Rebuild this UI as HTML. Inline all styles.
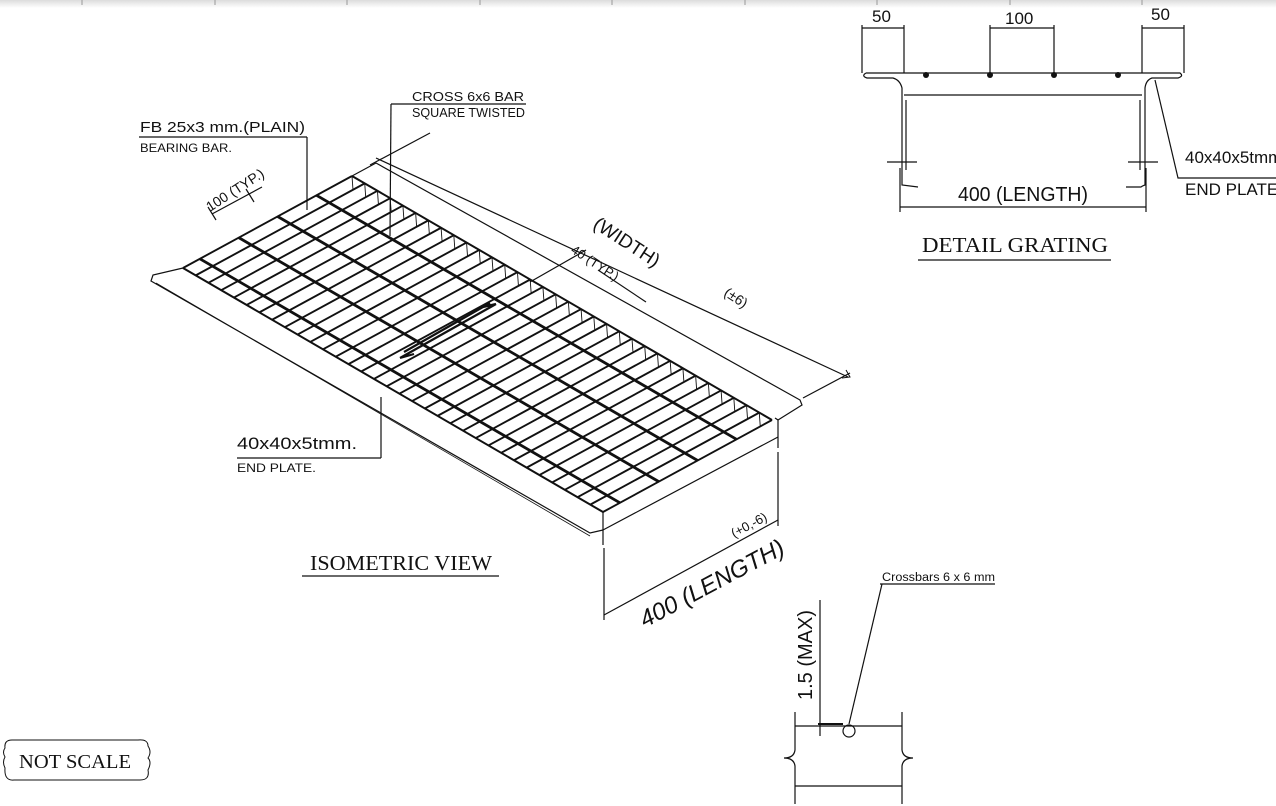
<!DOCTYPE html>
<html><head><meta charset="utf-8"><style>
html,body{margin:0;padding:0;background:#fff;}
svg{display:block;}
text{font-family:"Liberation Sans",sans-serif;fill:#111;stroke:none;font-weight:normal;}
.s{font-family:"Liberation Serif",serif;}
</style></head><body>
<svg id="sv" width="1276" height="806" viewBox="0 0 1276 806" xmlns="http://www.w3.org/2000/svg" stroke="#111" fill="none" stroke-width="1.2">
<defs>
<linearGradient id="tb" x1="0" y1="0" x2="0" y2="1"><stop offset="0" stop-color="#dcdcdc"/><stop offset="1" stop-color="#fff"/></linearGradient>
</defs>
<rect x="0" y="0" width="1276" height="8" fill="url(#tb)" stroke="none"/>
<g stroke="#999" stroke-width="1">
<line x1="82" y1="0" x2="82" y2="5"/><line x1="215" y1="0" x2="215" y2="5"/><line x1="347" y1="0" x2="347" y2="5"/><line x1="480" y1="0" x2="480" y2="5"/><line x1="612" y1="0" x2="612" y2="5"/><line x1="745" y1="0" x2="745" y2="5"/><line x1="877" y1="0" x2="877" y2="5"/><line x1="1010" y1="0" x2="1010" y2="5"/><line x1="1142" y1="0" x2="1142" y2="5"/>
</g>
<g id="grid"></g>

<!-- front long strip -->
<path d="M183,268 L153,275 L151,281 L590,533 L603,530"/>
<line x1="156" y1="283" x2="590" y2="536" stroke-width="0.8"/>
<!-- right end face -->
<path d="M603,512 L603,545 M603,530 L778,437 M775,418 L778,420 L778,448"/>
<!-- back strip -->
<path d="M352,176 L376,163 L800,400 L802,405 L778,420"/>

<!-- width dim -->
<line x1="376" y1="158" x2="848" y2="377"/>
<line x1="803" y1="398" x2="850" y2="373"/>
<line x1="370" y1="165" x2="430" y2="133"/>
<path d="M846,370 L850,377 L842,378" stroke-width="1"/>
<text transform="translate(592,227) rotate(33)" font-size="19">(WIDTH)</text>
<text transform="translate(723,295) rotate(33)" font-size="14">(±6)</text>
<!-- 40 typ -->
<line x1="530" y1="282" x2="586" y2="250"/>
<text transform="translate(570,252) rotate(33)" font-size="13">40 (TYP.)</text>
<line x1="598" y1="270" x2="646" y2="302"/>
<!-- 100 typ -->
<line x1="212" y1="214" x2="262" y2="187"/>
<line x1="208" y1="207" x2="216" y2="220"/><line x1="246" y1="189" x2="254" y2="202"/>
<text transform="translate(210,212) rotate(-33)" font-size="14">100 (TYP.)</text>
<!-- center arrow -->
<path d="M400,358 L496,304 M404,352 L490,303 M400,358 L414,354 M496,304 L483,307" stroke-width="2.2"/>
<!-- labels -->
<text x="140" y="132" font-size="15" textLength="165" lengthAdjust="spacingAndGlyphs">FB 25x3 mm.(PLAIN)</text>
<line x1="139" y1="137" x2="307" y2="137"/>
<line x1="307" y1="137" x2="307" y2="210"/>
<text x="140" y="152" font-size="12" textLength="92" lengthAdjust="spacingAndGlyphs">BEARING BAR.</text>
<text x="412" y="101" font-size="12.5" textLength="112" lengthAdjust="spacingAndGlyphs">CROSS 6x6 BAR</text>
<text x="412" y="117" font-size="12.5" textLength="113" lengthAdjust="spacingAndGlyphs">SQUARE TWISTED</text>
<line x1="391" y1="104" x2="526" y2="104"/>
<line x1="391" y1="104" x2="390" y2="236"/>
<text x="237" y="449" font-size="17" textLength="120" lengthAdjust="spacingAndGlyphs">40x40x5tmm.</text>
<line x1="237" y1="458" x2="381" y2="458"/>
<line x1="381" y1="458" x2="381" y2="397"/>
<text x="237" y="472" font-size="12" textLength="79" lengthAdjust="spacingAndGlyphs">END PLATE.</text>
<text x="310" y="570" font-size="21" class="s" textLength="182" lengthAdjust="spacingAndGlyphs">ISOMETRIC VIEW</text>
<line x1="302" y1="576" x2="499" y2="576"/>
<!-- length dim -->
<line x1="604" y1="548" x2="604" y2="620"/>
<line x1="778" y1="452" x2="778" y2="526"/>
<line x1="604" y1="615" x2="778" y2="520"/>
<text transform="translate(734,538) rotate(-28)" font-size="13">(+0,-6)</text>
<text transform="translate(645,628) rotate(-28)" font-size="24" font-style="italic">400 (LENGTH)</text>
<!-- not scale -->
<path d="M12,740 Q4,740 5,748 Q2,752 5,757 Q2,762 5,768 Q4,781 14,780 L140,780 Q150,780 148,770 Q152,762 148,758 Q152,752 148,746 Q148,739 138,740 Z" stroke-width="1"/>
<text x="19" y="768" font-size="20" class="s" textLength="112" lengthAdjust="spacingAndGlyphs">NOT SCALE</text>

<!-- detail grating -->
<path d="M866,73 L1180,73 Q1184,76 1178,78 L1152,78 Q1146,80 1145,88 L1145,185 Q1142,186 1141,187 L1126,187 M866,73 Q861,76 867,78 L893,78 Q900,80 902,88 L902,185 L918,187"/>
<line x1="904" y1="95" x2="1142" y2="95"/>
<line x1="906" y1="100" x2="906" y2="170"/><line x1="1140" y1="100" x2="1140" y2="170"/>
<line x1="862" y1="25" x2="862" y2="73"/><line x1="904" y1="25" x2="904" y2="73"/>
<line x1="990" y1="25" x2="990" y2="73"/><line x1="1054" y1="25" x2="1054" y2="73"/>
<line x1="1142" y1="25" x2="1142" y2="73"/><line x1="1184" y1="25" x2="1184" y2="73"/>
<line x1="862" y1="28" x2="904" y2="28"/><line x1="990" y1="28" x2="1054" y2="28"/><line x1="1142" y1="28" x2="1184" y2="28"/>
<g fill="#111" stroke="none"><circle cx="926" cy="75" r="3"/><circle cx="990" cy="75" r="3"/><circle cx="1054" cy="75" r="3"/><circle cx="1118" cy="75" r="3"/></g>
<text x="872" y="22" font-size="17">50</text>
<text x="1005" y="24" font-size="17">100</text>
<text x="1151" y="20" font-size="17">50</text>
<line x1="887" y1="162" x2="917" y2="162"/><line x1="1128" y1="162" x2="1158" y2="162"/>
<line x1="900" y1="168" x2="900" y2="212"/><line x1="1146" y1="168" x2="1146" y2="212"/>
<line x1="900" y1="207" x2="1146" y2="207"/>
<text x="958" y="201" font-size="20" textLength="130" lengthAdjust="spacingAndGlyphs">400 (LENGTH)</text>
<text x="922" y="252" font-size="21" class="s" textLength="186" lengthAdjust="spacingAndGlyphs">DETAIL GRATING</text>
<line x1="918" y1="260" x2="1111" y2="260"/>
<path d="M1155,80 L1178,178 L1276,178"/>
<text x="1185" y="163" font-size="17">40x40x5tmm</text>
<text x="1185" y="195" font-size="17">END PLATE</text>

<!-- bottom detail -->
<line x1="820" y1="600" x2="820" y2="736"/>
<text transform="translate(812,700) rotate(-90)" font-size="20">1.5 (MAX)</text>
<line x1="795" y1="726" x2="902" y2="726"/>
<line x1="818" y1="724" x2="843" y2="724" stroke-width="2"/>
<circle cx="849" cy="731" r="6"/>
<line x1="882" y1="584" x2="849" y2="724"/>
<text x="882" y="581" font-size="11.5" textLength="113" lengthAdjust="spacingAndGlyphs">Crossbars 6 x 6 mm</text>
<line x1="880" y1="584" x2="995" y2="584"/>
<path d="M795,712 L795,750 Q794,758 784,758 Q794,758 795,766 L795,804 M902,712 L902,750 Q903,758 913,758 Q903,758 902,766 L902,804"/>
<line x1="795" y1="786" x2="902" y2="786"/>
</svg>
<script>
(function(){
var g=document.getElementById('grid'),ns='http://www.w3.org/2000/svg';
var D=[183,268],C=[603,512],A=[352,176];
function P(s,t){return [D[0]+s*(C[0]-D[0])+t*(A[0]-D[0]), D[1]+s*(C[1]-D[1])+t*(A[1]-D[1])];}
function L(p,q,w){var l=document.createElementNS(ns,'line');l.setAttribute('x1',p[0]);l.setAttribute('y1',p[1]);l.setAttribute('x2',q[0]);l.setAttribute('y2',q[1]);l.setAttribute('stroke-width',w);g.appendChild(l);}
var N=33;
for(var i=0;i<=N;i++){var s=i/N;L(P(s,0),P(s,1),1.9);
 if(i<N){var b=P(s,1);L(b,[b[0]+1,b[1]+14],0.9);}}
L(P(0,0),P(1,0),2);L(P(0,1),P(1,1),2);
[0.1,0.33,0.56,0.79].forEach(function(t){L(P(0,t),P(1,t),2.8);});
})();
</script>
</body></html>
